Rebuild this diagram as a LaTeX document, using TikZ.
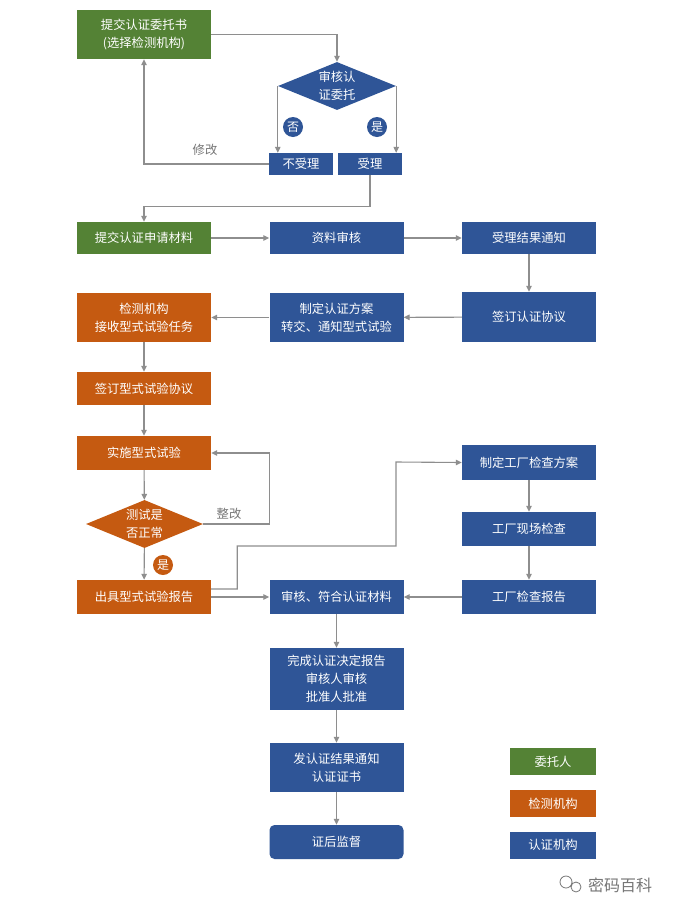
\documentclass[tikz,border=0pt]{standalone}
\usepackage{fontspec}
\newfontfamily\cjk{Noto Sans CJK SC}
\usetikzlibrary{arrows.meta, shapes.geometric, calc}
\definecolor{clientgreen}{HTML}{548235}
\definecolor{laborange}{HTML}{C55A11}
\definecolor{certblue}{HTML}{2F5597}
\definecolor{linegray}{HTML}{8E8E8E}
\definecolor{notegray}{HTML}{767676}
\tikzset{
    flowchart/.style={x=1pt, y=-1pt, font=\cjk\fontsize{12.3pt}{18pt}\selectfont,
        >={Triangle[length=6pt, width=5.5pt]}},
    block/.style={minimum width=134pt, inner sep=2pt, align=center, text=white},
    client/.style={block, fill=clientgreen},
    lab/.style={block, fill=laborange},
    cert/.style={block, fill=certblue},
    decision/.style={diamond, aspect=2.4, inner sep=0pt, align=center, text=white,
        minimum width=118pt, minimum height=48pt},
    flow/.style={draw=linegray, line width=1.1pt, ->},
    badge/.style={circle, fill=certblue, text=white, inner sep=0pt, minimum size=20pt,
        font=\cjk\fontsize{12pt}{14pt}\selectfont},
    remark/.style={text=notegray},
    legend/.style={block, minimum width=86pt, minimum height=27pt},
}

\begin{document}
\begin{tikzpicture}[flowchart]
    \fill[white] (0,0) rectangle (673,900);

    % application stage
    \node[client, minimum height=49pt] (entrust) at (144,34.5) {提交认证委托书\\(选择检测机构)};
    \node[decision, fill=certblue] (review) at (337,86) {审核认\\证委托};
    \node[cert, minimum width=64pt, minimum height=22pt] (reject) at (301,164) {不受理};
    \node[cert, minimum width=64pt, minimum height=22pt] (accept) at (370,164) {受理};
    \node[badge] (no) at (293,127) {否};
    \node[badge] (yes) at (377,127) {是};
    \node[remark] (modify) at (205,150) {修改};

    \draw[flow] (entrust.east) -| (review.north);
    \draw[flow] (review.west) -- (review.west |- reject.north);
    \draw[flow] (review.east) -- (review.east |- accept.north);
    \draw[flow] (reject.west) -| (entrust.south);

    % documents
    \node[client, minimum height=32pt] (apply) at (144,238) {提交认证申请材料};
    \node[cert, minimum height=32pt] (check) at (336.5,238) {资料审核};
    \node[cert, minimum height=32pt] (notify) at (529,238) {受理结果通知};
    \node[cert, minimum height=50pt] (sign) at (529,317) {签订认证协议};
    \node[cert, minimum height=49pt] (plan) at (336.5,317.5) {制定认证方案\\转交、通知型式试验};
    \node[lab, minimum height=49pt] (receive) at (144,317.5) {检测机构\\接收型式试验任务};

    \draw[flow] (accept.south) -- ++(0,31) -| (apply.north);
    \draw[flow] (apply) -- (check);
    \draw[flow] (check) -- (notify);
    \draw[flow] (notify) -- (sign);
    \draw[flow] (sign) -- (plan);
    \draw[flow] (plan) -- (receive);

    % type test
    \node[lab, minimum height=33pt] (labsign) at (144,388.5) {签订型式试验协议};
    \node[lab, minimum height=34pt] (test) at (144,453) {实施型式试验};
    \node[decision, fill=laborange, minimum width=117pt] (normal) at (144.5,524) {测试是\\否正常};
    \node[remark] (rectify) at (229,514) {整改};
    \node[badge, fill=laborange] (pass) at (163,565) {是};
    \node[lab, minimum height=34pt] (report) at (144,597) {出具型式试验报告};

    \draw[flow] (receive) -- (labsign);
    \draw[flow] (labsign) -- (test);
    \draw[flow] (test) -- (normal);
    \draw[flow] (normal.east) -- ++(66,0) |- (test.east);
    \draw[flow] (normal) -- (report);

    % factory inspection
    \node[cert, minimum height=35pt] (fplan) at (529,462.5) {制定工厂检查方案};
    \node[cert, minimum height=34pt] (onsite) at (529,529) {工厂现场检查};
    \node[cert, minimum height=34pt] (freport) at (529,597) {工厂检查报告};
    \node[cert, minimum height=34pt] (audit) at (336.5,597) {审核、符合认证材料};

    \draw[flow] ([yshift=8pt]report.east) -- ++(26,0) -- ++(0,-43) -| (396,462) -- (fplan.west);
    \draw[flow] (fplan) -- (onsite);
    \draw[flow] (onsite) -- (freport);
    \draw[flow] (freport) -- (audit);
    \draw[flow] (report) -- (audit);

    % decision and certificate
    \node[cert, minimum height=62pt] (decide) at (336.5,679) {完成认证决定报告\\审核人审核\\批准人批准};
    \node[cert, minimum height=49pt] (issue) at (336.5,767.5) {发认证结果通知\\认证证书};
    \node[cert, minimum height=34pt, rounded corners=5pt] (supervise) at (336.5,842) {证后监督};

    \draw[flow] (audit) -- (decide);
    \draw[flow] (decide) -- (issue);
    \draw[flow] (issue) -- (supervise);

    % legend
    \node[legend, fill=clientgreen] (keyclient) at (553,761.5) {委托人};
    \node[legend, fill=laborange] (keylab) at (553,803.5) {检测机构};
    \node[legend, fill=certblue] (keycert) at (553,845) {认证机构};

    % watermark
    \draw[notegray, line width=0.8pt] (566,882) circle (6pt) (576,887) circle (5pt);
    \node[text=notegray, font=\cjk\fontsize{16pt}{18pt}\selectfont] (mark) at (620,885) {密码百科};
\end{tikzpicture}
\end{document}
